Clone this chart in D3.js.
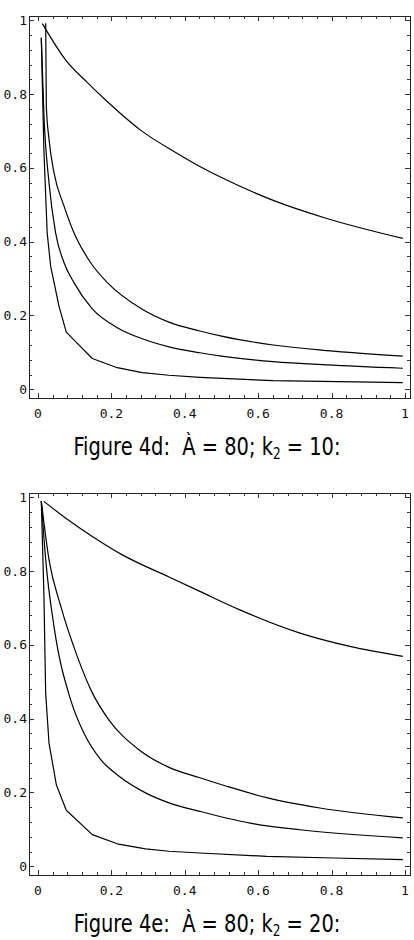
<!DOCTYPE html>
<html>
<head>
<meta charset="utf-8">
<script src="https://cdn.jsdelivr.net/npm/d3@7"></script>
<style>
  body { margin: 0; background: #fff; }
  svg { display: block; }
</style>
</head>
<body>
<div id="chart"></div>
<script>
// TICKS
const majorTicks = [0, 0.2, 0.4, 0.6, 0.8, 1];
const tickLabels = ["0", "0.2", "0.4", "0.6", "0.8", "1"];

// FIGURE 4d CURVES  [x, y]
const fig4dCurveA = [[0.012,0.991],[0.075,0.893],[0.134,0.832],[0.193,0.776],[0.284,0.699],[0.375,0.642],[0.441,0.604],[0.5,0.574],[0.641,0.512],[0.787,0.463],[0.994,0.409]];
const fig4dCurveB = [[0.021,0.992],[0.0227,0.768],[0.030,0.678],[0.0436,0.587],[0.0708,0.497],[0.098,0.424],[0.1435,0.343],[0.189,0.289],[0.284,0.217],[0.357,0.182],[0.441,0.158],[0.5,0.144],[0.641,0.12],[0.787,0.105],[0.994,0.090]];
const fig4dCurveC = [[0.009,0.953],[0.0163,0.741],[0.030,0.56],[0.048,0.424],[0.071,0.343],[0.098,0.289],[0.148,0.218],[0.216,0.167],[0.284,0.137],[0.357,0.115],[0.441,0.099],[0.5,0.090],[0.641,0.075],[0.787,0.066],[0.994,0.057]];
const fig4dCurveD = [[0.009,0.953],[0.016,0.65],[0.025,0.424],[0.0345,0.334],[0.057,0.226],[0.077,0.155],[0.148,0.0835],[0.216,0.0585],[0.284,0.045],[0.357,0.038],[0.441,0.0325],[0.641,0.0233],[0.994,0.018]];

// FIGURE 4e CURVES
const fig4eCurveA = [[0.016,0.989],[0.075,0.944],[0.148,0.894],[0.23,0.844],[0.357,0.784],[0.441,0.745],[0.55,0.695],[0.714,0.632],[0.85,0.596],[0.994,0.569]];
const fig4eCurveB = [[0.009,0.99],[0.030,0.831],[0.062,0.705],[0.107,0.569],[0.148,0.47],[0.193,0.397],[0.275,0.316],[0.357,0.268],[0.441,0.24],[0.514,0.217],[0.623,0.186],[0.768,0.158],[0.994,0.131]];
const fig4eCurveC = [[0.009,0.99],[0.021,0.831],[0.0436,0.65],[0.089,0.451],[0.125,0.361],[0.171,0.289],[0.221,0.244],[0.293,0.199],[0.357,0.172],[0.441,0.149],[0.578,0.117],[0.714,0.099],[0.994,0.077]];
const fig4eCurveD = [[0.009,0.99],[0.016,0.741],[0.0209,0.47],[0.03,0.334],[0.05,0.221],[0.077,0.152],[0.148,0.0857],[0.216,0.061],[0.293,0.047],[0.357,0.0407],[0.441,0.036],[0.623,0.027],[0.805,0.0225],[0.994,0.018]];

// CAPTIONS
const caption4d = { label: "Figure 4d:\u00a0 À = 80; k", sub: "2", tail: " = 10:" };
const caption4e = { label: "Figure 4e:\u00a0 À = 80; k", sub: "2", tail: " = 20:" };

// LAYOUT
const W = 414, H = 940;
const frame = { left: 29, right: 410, top: 16, bottom: 398 };
const panelOffset = 477;

const svg = d3.select("#chart").append("svg")
    .attr("width", W)
    .attr("height", H);

// SCALES (same for both panels, panel group is shifted)
const x = d3.scaleLinear().domain([-0.0245, 1.0136]).range([frame.left, frame.right]);
const y = d3.scaleLinear().domain([-0.0236, 1.0117]).range([frame.bottom, frame.top]);

const minorTicks = d3.range(0, 26).map(i => +(i * 0.04).toFixed(2))
    .filter(v => v <= 1 && majorTicks.indexOf(v) < 0);

const smoothLine = d3.line()
    .x(d => x(d[0]))
    .y(d => y(d[1]))
    .curve(d3.curveMonotoneX);

const straightLine = d3.line()
    .x(d => x(d[0]))
    .y(d => y(d[1]));

function drawPanel(offset, curves, caption) {
    const g = svg.append("g").attr("transform", `translate(0, ${offset})`);

    // CURVES (lowest one keeps its kinks)
    curves.forEach((c, i) => {
        g.append("path")
            .datum(c)
            .attr("d", i === curves.length - 1 ? straightLine : smoothLine)
            .attr("fill", "none")
            .attr("stroke", "#000")
            .attr("stroke-width", 1.2)
            .attr("stroke-linejoin", "round");
    });

    // FRAME
    g.append("rect")
        .attr("x", frame.left + 0.5)
        .attr("y", frame.top + 0.5)
        .attr("width", frame.right - frame.left)
        .attr("height", frame.bottom - frame.top)
        .attr("fill", "none")
        .attr("stroke", "#222")
        .attr("stroke-width", 1);

    // TICKS ON ALL SIDES, POINTING IN
    const ticks = majorTicks.map(v => ({ v, len: 5 })).concat(minorTicks.map(v => ({ v, len: 3 })));
    const tg = g.append("g").attr("stroke", "#333").attr("stroke-width", 1);
    ticks.forEach(t => {
        const px = Math.round(x(t.v)) + 0.5;
        const py = Math.round(y(t.v)) + 0.5;
        tg.append("line").attr("x1", px).attr("x2", px).attr("y1", frame.bottom).attr("y2", frame.bottom - t.len);
        tg.append("line").attr("x1", px).attr("x2", px).attr("y1", frame.top).attr("y2", frame.top + t.len);
        tg.append("line").attr("y1", py).attr("y2", py).attr("x1", frame.left).attr("x2", frame.left + t.len);
        tg.append("line").attr("y1", py).attr("y2", py).attr("x1", frame.right).attr("x2", frame.right - t.len);
    });

    // TICK LABELS
    g.selectAll(".xl").data(majorTicks).enter().append("text")
        .attr("x", d => x(d))
        .attr("y", frame.bottom + 20)
        .attr("text-anchor", "middle")
        .attr("font-family", "'DejaVu Sans Mono', monospace")
        .attr("font-size", 13)
        .attr("fill", "#111")
        .text((d, i) => tickLabels[i]);

    g.selectAll(".yl").data(majorTicks).enter().append("text")
        .attr("x", frame.left - 2)
        .attr("y", d => y(d))
        .attr("dy", "0.35em")
        .attr("text-anchor", "end")
        .attr("font-family", "'DejaVu Sans Mono', monospace")
        .attr("font-size", 13)
        .attr("fill", "#111")
        .text((d, i) => tickLabels[i]);

    // CAPTION (squeezed horizontally like the narrow original face)
    const t = g.append("g")
        .attr("transform", "translate(207, 455) scale(0.9, 1)")
        .append("text")
        .attr("text-anchor", "middle")
        .attr("font-family", "'DejaVu Sans Condensed', 'DejaVu Sans', sans-serif")
        .attr("font-stretch", "condensed")
        .attr("font-size", 24)
        .style("white-space", "pre");
    t.append("tspan").text(caption.label);
    t.append("tspan").attr("font-size", 15).attr("dy", 4).text(caption.sub);
    t.append("tspan").attr("dy", -4).text(caption.tail);
}

drawPanel(0, [fig4dCurveA, fig4dCurveB, fig4dCurveC, fig4dCurveD], caption4d);
drawPanel(panelOffset, [fig4eCurveA, fig4eCurveB, fig4eCurveC, fig4eCurveD], caption4e);
</script>
</body>
</html>
